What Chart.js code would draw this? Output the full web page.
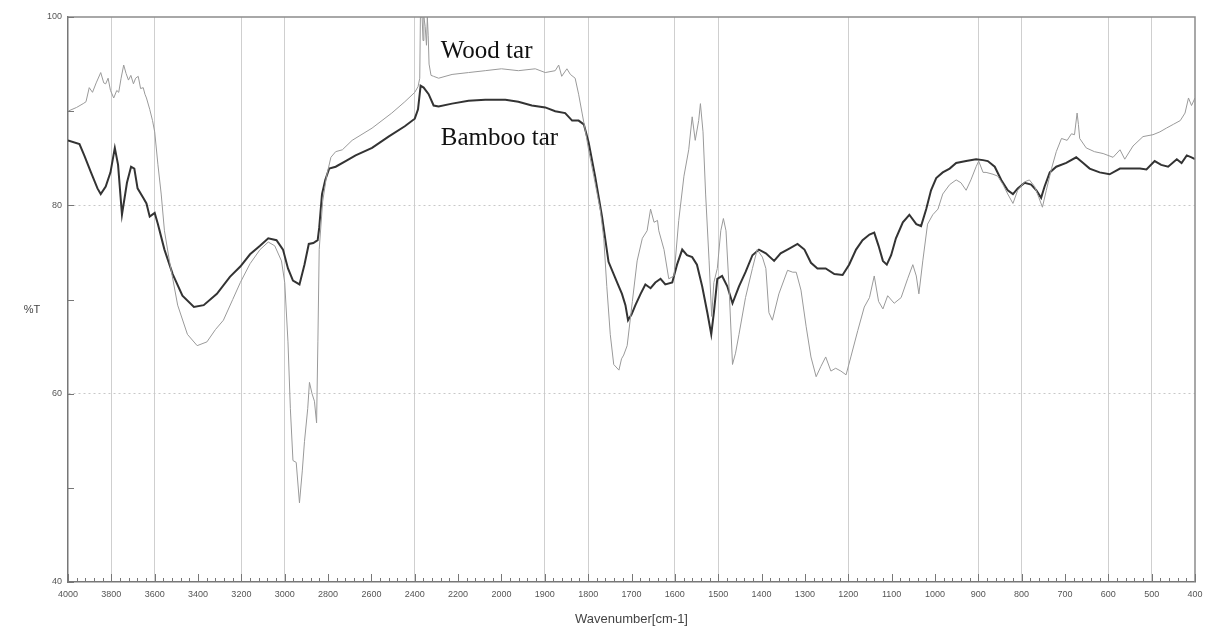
<!DOCTYPE html>
<html><head><meta charset="utf-8">
<script src="https://cdn.jsdelivr.net/npm/chart.js@4/dist/chart.umd.min.js"></script>
<style>html,body{margin:0;padding:0;background:#fff;}#wrap{width:1210px;height:633px;}</style>
</head><body><div id="wrap"><canvas id="c" width="1210" height="633"></canvas></div>
<script>
const woodWavenumber = [4000,3960,3930,3917,3902,3887,3870,3849,3835,3826,3815,3804,3789,3775,3766,3755,3743,3732,3721,3710,3698,3688,3676,3665,3653,3645,3638,3623,3610,3600,3585,3570,3555,3532,3494,3449,3404,3359,3320,3283,3240,3205,3160,3114,3076,3046,3015,3000,2985,2974,2962,2947,2932,2919,2909,2894,2886,2874,2863,2853,2847,2841,2825,2807,2787,2765,2734,2689,2597,2506,2446,2400,2385,2377,2374,2366,2362,2358,2352,2346,2342,2338,2334,2325,2313,2290,2228,2152,2075,2000,1961,1922,1899,1876,1868,1861,1849,1841,1830,1822,1814,1806,1799,1787,1772,1764,1757,1749,1741,1729,1723,1718,1710,1698,1687,1675,1664,1656,1648,1640,1637,1625,1614,1602,1591,1579,1568,1560,1553,1545,1541,1535,1529,1521,1515,1510,1502,1494,1488,1482,1475,1467,1460,1452,1437,1421,1410,1398,1390,1383,1375,1360,1340,1328,1320,1309,1297,1286,1274,1263,1252,1240,1229,1217,1205,1194,1178,1163,1151,1140,1130,1120,1109,1094,1078,1063,1051,1043,1037,1028,1017,1005,993,982,966,951,940,928,917,905,899,889,882,866,855,843,832,820,809,793,782,770,760,752,743,731,720,708,695,685,678,672,669,666,651,632,612,589,573,562,543,520,497,481,466,450,434,423,415,408,400];
const woodT = [90.0,90.4,90.8,91.0,92.5,92.0,93.0,94.1,93.0,92.9,93.5,92.2,91.4,92.2,92.0,93.5,94.9,94.0,93.3,93.8,92.9,93.5,93.7,92.4,92.5,91.8,91.4,90.2,89.0,87.8,84.3,81.2,77.3,74.1,69.4,66.3,65.1,65.5,66.8,67.8,70.0,71.8,73.8,75.3,76.1,75.7,74.1,71.8,65.5,58.4,52.9,52.7,48.4,51.8,54.9,58.4,61.2,60.0,59.2,56.9,65.5,75.3,80.4,83.1,85.1,85.7,85.9,86.9,88.2,89.8,91.0,92.0,92.6,93.5,100,100,97.5,100,99,97,100,98,95,93.8,93.7,93.5,93.9,94.1,94.3,94.5,94.3,94.5,94.1,94.3,94.9,93.7,94.5,93.9,93.5,91.8,89.8,87.8,85.9,83.1,79.5,76.5,71.4,66.3,63.1,62.5,63.7,64.1,65.1,69.8,74.1,76.5,77.3,79.6,78.2,78.4,77.3,75.3,72.2,72.5,78.4,83.1,85.9,89.4,86.9,89.0,90.8,87.8,81.2,74.1,68.2,71.8,73.3,77.3,78.6,77.3,71.4,63.1,64.3,66.3,70.2,73.3,75.3,74.5,73.3,68.6,67.8,70.6,73.1,72.9,72.9,71.0,67.1,63.9,61.8,62.9,63.9,62.4,62.7,62.4,62.0,63.9,66.7,69.2,70.2,72.5,69.8,69.0,70.4,69.6,70.2,72.2,73.7,72.5,70.6,74.1,78.0,79.0,79.6,81.2,82.2,82.7,82.4,81.6,82.7,84.1,84.7,83.5,83.5,83.3,83.1,82.2,81.2,80.2,81.6,82.5,82.7,82.0,80.8,79.8,81.6,83.9,85.7,87.1,86.9,87.6,87.5,89.8,88.6,87.1,86.1,85.7,85.5,85.1,85.9,84.9,86.3,87.3,87.5,87.8,88.2,88.6,89.0,89.8,91.4,90.6,91.4];
const bambooWavenumber = [4000,3947,3925,3894,3864,3849,3826,3804,3784,3769,3751,3728,3709,3694,3679,3653,3638,3623,3600,3585,3555,3517,3472,3419,3374,3313,3253,3205,3160,3114,3076,3038,3008,2985,2962,2932,2909,2889,2868,2848,2841,2828,2813,2795,2765,2719,2673,2597,2521,2446,2400,2385,2373,2359,2336,2313,2290,2228,2152,2075,1991,1961,1930,1899,1876,1853,1837,1822,1810,1799,1784,1768,1753,1733,1722,1714,1708,1700,1691,1679,1668,1656,1645,1633,1622,1606,1595,1583,1572,1560,1549,1537,1525,1516,1510,1502,1491,1479,1467,1452,1437,1421,1406,1390,1371,1356,1336,1317,1301,1286,1271,1252,1232,1213,1198,1182,1167,1151,1140,1130,1120,1111,1101,1090,1074,1059,1043,1032,1020,1009,997,982,966,951,928,905,889,878,862,847,832,820,809,793,778,766,755,747,735,720,697,674,658,643,620,597,573,550,527,512,493,478,462,442,431,419,408,400];
const bambooT = [86.9,86.5,85.3,83.5,81.8,81.2,82.0,83.5,86.1,84.3,79.0,82.4,84.1,83.9,81.8,80.8,80.2,78.8,79.2,78.0,75.3,72.7,70.4,69.2,69.4,70.6,72.4,73.5,74.8,75.7,76.5,76.3,75.3,73.3,72.0,71.6,73.7,75.9,76.0,76.3,77.6,81.2,82.7,83.9,84.1,84.7,85.3,86.1,87.3,88.4,89.2,90.2,92.7,92.5,91.8,90.6,90.5,90.8,91.1,91.2,91.2,91.0,90.6,90.4,90.0,89.8,89.0,89.0,88.6,86.7,83.1,78.8,74.0,71.8,70.6,69.4,67.8,68.4,69.4,70.6,71.6,71.2,71.8,72.2,71.6,71.8,73.7,75.3,74.7,74.5,73.7,71.4,68.6,66.3,68.6,72.2,72.5,71.4,69.6,71.4,72.9,74.7,75.3,74.9,74.1,74.9,75.4,75.9,75.3,73.9,73.3,73.3,72.7,72.6,73.7,75.3,76.3,76.9,77.1,75.7,74.1,73.7,74.7,76.5,78.2,79.0,78.0,77.8,79.6,81.6,82.9,83.5,83.9,84.5,84.7,84.9,84.8,84.7,84.1,82.7,81.6,81.2,81.8,82.4,82.2,81.6,80.8,82.0,83.5,84.1,84.5,85.1,84.5,83.9,83.5,83.3,83.9,83.9,83.9,83.8,84.7,84.3,84.1,84.9,84.5,85.3,85.1,84.9];
const xTickLabels = [4000,3800,3600,3400,3200,3000,2800,2600,2400,2200,2000,1900,1800,1700,1600,1500,1400,1300,1200,1100,1000,900,800,700,600,500,400];
const yTickLabels = [40,60,80,100];
const seriesNames = ['Wood tar','Bamboo tar'];
const visibleGridWavenumbers = [3800,3600,3200,3000,2400,1900,1800,1600,1500,1200,900,800,600,500];

// instrument axis: 4000-2000 at one scale, 2000-400 at double scale
function toAxis(w){ return w >= 2000 ? 4000 - w : 2000 + 2*(2000 - w); }
function fromAxis(u){ return u <= 2000 ? 4000 - u : 2000 - (u - 2000)/2; }

const decor = {
  id: 'decor',
  afterDraw(chart){
    const {ctx, chartArea: a, scales: {x, y}} = chart;
    ctx.save();
    ctx.strokeStyle = '#8c8c8c'; ctx.lineWidth = 1.5;
    ctx.beginPath(); ctx.moveTo(a.left, a.top); ctx.lineTo(a.right, a.top); ctx.lineTo(a.right, a.bottom); ctx.stroke();
    ctx.strokeStyle = '#777'; ctx.lineWidth = 1;
    ctx.beginPath();
    for (let u = 0; u <= 5200; u += 40) {
      const px = Math.round(x.getPixelForValue(u)) + 0.5;
      const len = (u % 200 === 0) ? 8 : 4;
      ctx.moveTo(px, a.bottom); ctx.lineTo(px, a.bottom - len);
    }
    for (let v = 40; v <= 100; v += 10) {
      const py = Math.round(y.getPixelForValue(v)) + 0.5;
      ctx.moveTo(a.left, py); ctx.lineTo(a.left + 6, py);
    }
    ctx.stroke();
    ctx.fillStyle = '#444'; ctx.font = '11px "Liberation Sans"';
    ctx.textAlign = 'center'; ctx.textBaseline = 'middle';
    ctx.fillText('%T', y.left + 32, y.getPixelForValue(68.9));
    ctx.fillStyle = '#111'; ctx.font = '25px "Liberation Serif"';
    ctx.textAlign = 'left'; ctx.textBaseline = 'alphabetic';
    ctx.fillText(seriesNames[0], x.getPixelForValue(toAxis(2280)), y.getPixelForValue(95.6));
    ctx.fillText(seriesNames[1], x.getPixelForValue(toAxis(2280)), y.getPixelForValue(86.4));
    ctx.restore();
  }
};

new Chart(document.getElementById('c'), {
  type: 'line',
  data: {
    datasets: [
      { label: seriesNames[0], data: woodWavenumber.map((w,i)=>({x: toAxis(w), y: woodT[i]})),
        borderColor: '#9a9a9a', borderWidth: 1, pointRadius: 0, tension: 0, fill: false },
      { label: seriesNames[1], data: bambooWavenumber.map((w,i)=>({x: toAxis(w), y: bambooT[i]})),
        borderColor: '#333', borderWidth: 2, pointRadius: 0, tension: 0, fill: false }
    ]
  },
  options: {
    responsive: false, animation: false, devicePixelRatio: 1,
    layout: { padding: { left: 0, right: 15, top: 17, bottom: 0 } },
    plugins: { legend: { display: false }, tooltip: { enabled: false } },
    scales: {
      x: {
        type: 'linear', min: 0, max: 5200,
        afterBuildTicks: s => { s.ticks = xTickLabels.map(w => ({ value: toAxis(w) })); },
        afterFit: s => { s.height = 51; },
        ticks: { autoSkip: false, maxRotation: 0, padding: 7, color: '#555',
                 font: { size: 9, family: 'Liberation Sans' },
                 callback: v => String(Math.round(fromAxis(v))) },
        grid: { drawTicks: false,
                color: c => (c.tick && visibleGridWavenumbers.includes(Math.round(fromAxis(c.tick.value)))) ? '#cfcfcf' : 'rgba(0,0,0,0)',
                lineWidth: 1 },
        border: { color: '#777', width: 1.5 },
        title: { display: true, text: 'Wavenumber[cm-1]', color: '#444',
                 font: { size: 13, family: 'Liberation Sans' }, padding: { top: 0, bottom: 6 } }
      },
      y: {
        min: 40, max: 100,
        afterBuildTicks: s => { const t = []; for (let v = 40; v <= 100; v += 10) t.push({ value: v }); s.ticks = t; },
        afterFit: s => { s.width = 68; },
        ticks: { padding: 6, color: '#555', font: { size: 9, family: 'Liberation Sans' },
                 callback: v => yTickLabels.includes(v) ? String(v) : '' },
        grid: { drawTicks: false,
                color: c => (c.tick && (c.tick.value === 60 || c.tick.value === 80)) ? '#c8c8c8' : 'rgba(0,0,0,0)',
                lineWidth: 1 },
        border: { color: '#777', width: 1.5, dash: [2, 3] }
      }
    }
  },
  plugins: [decor]
});
</script></body></html>
